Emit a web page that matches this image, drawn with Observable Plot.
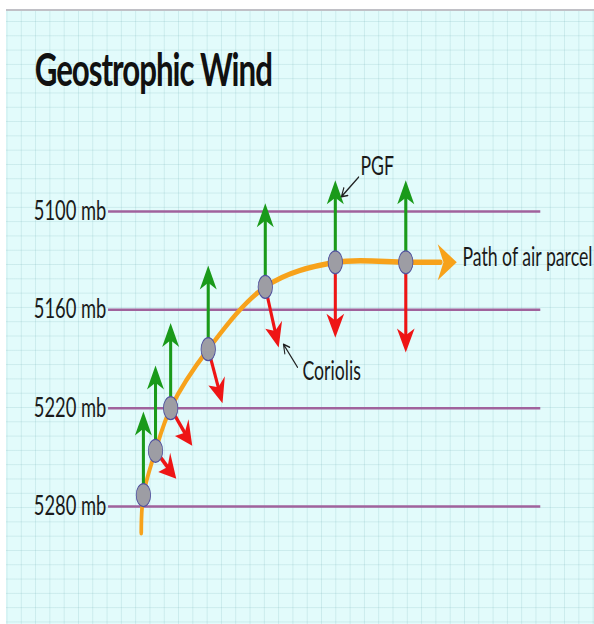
<!DOCTYPE html>
<html><head><meta charset="utf-8">
<script src="https://cdn.jsdelivr.net/npm/d3@7"></script>
<script src="https://cdn.jsdelivr.net/npm/@observablehq/plot@0.6"></script>
<style>
html, body {margin:0; padding:0; width:594px; height:624px; overflow:hidden; background:#fff;}
#panel {position:absolute; left:6px; top:9px; right:0; bottom:0; background-color:#e2fbfb; border-top:2px solid #c0c0c6;
  background-image: linear-gradient(to right, rgba(120,180,185,0.22) 1px, transparent 1px), linear-gradient(to bottom, rgba(120,180,185,0.22) 1px, transparent 1px);
  background-size: 14.3px 14.3px; background-position: 0.5px 10px;}
#stage {position:absolute; left:0; top:0; width:874px; height:624px; transform: scaleX(0.6796); transform-origin: 0 0;}
#title {height:110px; position:relative;}
#title h1 {position:absolute; left:51px; top:46px; margin:0; font: 700 46px/46px Lato, sans-serif; letter-spacing:-1.5px; color:#111; white-space:nowrap;}
</style></head>
<body>
<div id="panel"></div>
<div id="stage"><div id="title"><h1>Geostrophic Wind</h1></div><div id="chart"></div></div>
<script>
// Isobar levels (mb)
const isobars = [5100, 5160, 5220, 5280];
// Air parcel positions: distance along isobars (0–100) and level (mb)
const parcelX = [8.1, 10.9, 14.4, 23.1, 36.3, 52.5, 68.8];
const parcelP = [5273, 5246, 5220, 5184, 5146, 5131, 5131];
// Pressure-gradient-force arrow tips (mb)
const pgfTipP = [5222, 5194, 5168, 5133, 5095, 5081, 5081];
// Coriolis arrow tips (null = no Coriolis on the parcel at rest)
const corTipX = [null, 15.7, 19.4, 26.4, 39.4, 52.5, 68.8];
const corTipP = [null, 5263, 5243, 5217, 5183, 5177, 5186];
// Path of the air parcel (curve nodes) and its arrow tip
const pathX = [7.6, 8.1, 10.9, 14.4, 23.1, 36.3, 52.5, 68.8, 76.9];
const pathP = [5296, 5273, 5246, 5220, 5184, 5146, 5131, 5131, 5131];
const pathTipX = [80.6];
const pathTipP = [5131];
// Annotation pointers
const ptrX1 = [57.9, 43.75], ptrP1 = [5079, 5195];
const ptrX2 = [53.9, 40.5],  ptrP2 = [5091, 5181];
// Text labels
const labelText = ["PGF", "Coriolis", "Path of air parcel"];
const labelX = [58.3, 44.9, 81.9];
const labelP = [5072.5, 5198, 5128];

const W = 874, H = 514, mL = 159, mR = 79, mT = 101, mB = 118;
const sx = d3.scaleLinear([0, 100], [mL, W - mR]);
const sy = d3.scaleLinear([5100, 5280], [mT, H - mB]);

const GREEN = "#1a9a1a", RED = "#ee1515", ORANGE = "#f7a21b", ISO = "#a0629c";

const parcels = parcelX.map((x, i) => ({x, p: parcelP[i], pgf: pgfTipP[i]}));
const coriolis = parcelX.map((x, i) => ({x1: x, p1: parcelP[i], x2: corTipX[i], p2: corTipP[i]})).filter(d => d.x2 != null);
const path = pathX.map((x, i) => ({x, p: pathP[i]}));
const pathTip = pathTipX.map((x, i) => ({x, p: pathTipP[i]}));
const pointers = ptrX1.map((x, i) => ({x1: x, p1: ptrP1[i], x2: ptrX2[i], p2: ptrP2[i]}));
const labels = labelText.map((t, i) => ({text: t, x: labelX[i], p: labelP[i]}));

function arrowHead(angle, L, Wd, notch) {
  const c = Math.cos(angle), s = Math.sin(angle);
  const pts = [[0, 0], [-L, Wd / 2], [-L * notch, 0], [-L, -Wd / 2]].map(([u, v]) => [u * c - v * s, u * s + v * c]);
  return {draw(ctx) {
    ctx.moveTo(pts[0][0], pts[0][1]);
    for (let k = 1; k < pts.length; k++) ctx.lineTo(pts[k][0], pts[k][1]);
    ctx.closePath();
  }};
}
function ellipse(rx, ry) {
  const k = 0.5523;
  return {draw(ctx) {
    ctx.moveTo(rx, 0);
    ctx.bezierCurveTo(rx, ry * k, rx * k, ry, 0, ry);
    ctx.bezierCurveTo(-rx * k, ry, -rx, ry * k, -rx, 0);
    ctx.bezierCurveTo(-rx, -ry * k, -rx * k, -ry, 0, -ry);
    ctx.bezierCurveTo(rx * k, -ry, rx, -ry * k, rx, 0);
    ctx.closePath();
  }};
}
const angleOf = d => Math.atan2(sy(d.p2) - sy(d.p1), sx(d.x2) - sx(d.x1));

const chart = Plot.plot({
  width: W, height: H,
  marginLeft: mL, marginRight: mR, marginTop: mT, marginBottom: mB,
  x: {domain: [0, 100], axis: null},
  y: {domain: [5100, 5280], reverse: true, ticks: isobars, tickFormat: d => `${d} mb`, tickSize: 0, tickPadding: 3, label: null},
  style: {background: "transparent", fontFamily: "Lato, sans-serif", fontSize: "27px", color: "#1a1a1a", overflow: "visible"},
  marks: [
    Plot.ruleY(isobars, {stroke: ISO, strokeWidth: 2.5}),
    Plot.line(path, {x: "x", y: "p", curve: "catmull-rom", stroke: ORANGE, strokeWidth: 5.5}),
    Plot.dot(pathTip, {x: "x", y: "p", symbol: arrowHead(0, 28, 36, 0.7), fill: ORANGE, stroke: "none"}),
    Plot.arrow(parcels, {x1: "x", y1: "p", x2: "x", y2: "pgf", stroke: GREEN, strokeWidth: 4.5, headLength: 0, insetEnd: 15, strokeLinecap: "butt"}),
    Plot.dot(parcels, {x: "x", y: "pgf", symbol: arrowHead(-Math.PI / 2, 24, 25, 0.72), fill: GREEN, stroke: "none"}),
    Plot.arrow(coriolis, {x1: "x1", y1: "p1", x2: "x2", y2: "p2", stroke: RED, strokeWidth: 4.5, headLength: 0, insetEnd: 15, strokeLinecap: "butt"}),
    ...coriolis.map(d => Plot.dot([d], {x: "x2", y: "p2", symbol: arrowHead(angleOf(d), 24, 26, 0.72), fill: RED, stroke: "none"})),
    Plot.dot(parcels, {x: "x", y: "p", symbol: ellipse(10.6, 11.5), fill: "#9d9da4", stroke: "#4f4f9e", strokeWidth: 1.2}),
    Plot.arrow(pointers, {x1: "x1", y1: "p1", x2: "x2", y2: "p2", stroke: "#222", strokeWidth: 1.6, headLength: 9}),
    Plot.text(labels, {x: "x", y: "p", text: "text", textAnchor: "start", fontSize: 26, fill: "#1a1a1a"})
  ]
});
document.getElementById("chart").appendChild(chart);
</script>
</body></html>
